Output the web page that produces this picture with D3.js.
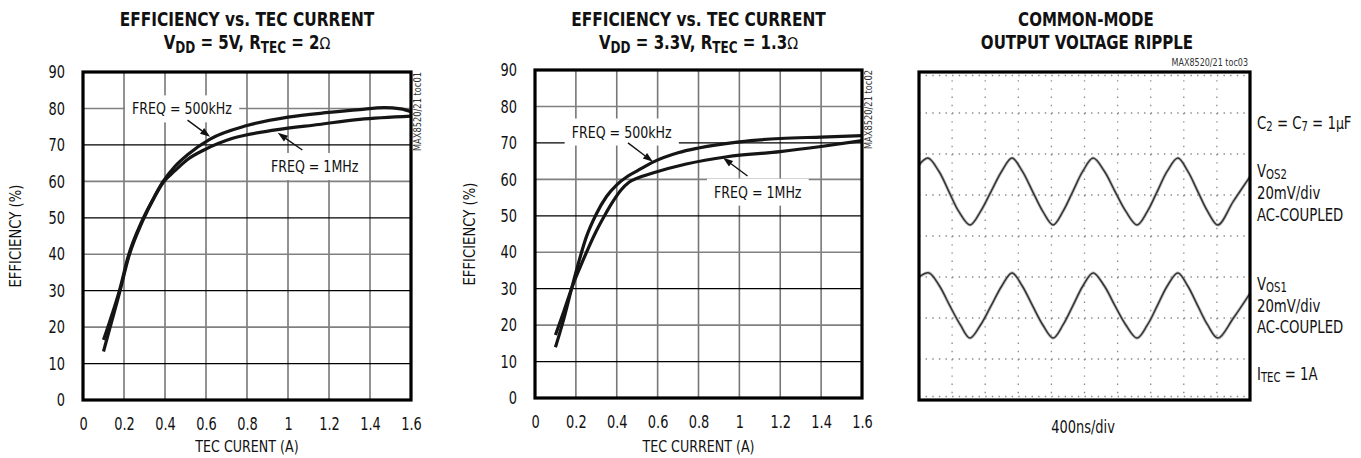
<!DOCTYPE html>
<html><head><meta charset="utf-8">
<script src="https://cdn.jsdelivr.net/npm/d3@7"></script>
<style>body{margin:0;background:#fff}</style>
</head><body><svg id="c" width="1361" height="458"></svg>
<script>
// ---------- DATA ----------
const currentTicks = [0, 0.2, 0.4, 0.6, 0.8, 1, 1.2, 1.4, 1.6];
const effTicks = [0, 10, 20, 30, 40, 50, 60, 70, 80, 90];

// Chart 1: VDD = 5V, RTEC = 2 ohm  ([current A, efficiency %])
const c1_500k = [[0.1,16.5],[0.13,21.5],[0.18,30.5],[0.22,39.3],[0.29,49.4],[0.35,56],[0.39,59.9],[0.45,64.2],[0.51,67.3],[0.62,71.6],[0.8,75.3],[1.0,77.6],[1.2,78.9],[1.35,79.7],[1.47,80.2],[1.55,79.9],[1.6,79.1]];
const c1_1M   = [[0.1,13.3],[0.13,19.5],[0.18,29.8],[0.22,38.7],[0.29,49],[0.35,55.8],[0.39,59.6],[0.45,63],[0.51,66],[0.59,68.6],[0.73,71.8],[0.94,74.1],[1.15,75.6],[1.35,77],[1.6,77.9]];
// Chart 2: VDD = 3.3V, RTEC = 1.3 ohm
const c2_500k = [[0.1,13.9],[0.14,21.5],[0.18,30.2],[0.21,36.5],[0.25,44],[0.3,50.5],[0.35,55.3],[0.4,58.5],[0.45,60.7],[0.5,62.3],[0.58,64.8],[0.7,67.3],[0.8,68.6],[1.0,70.3],[1.2,71.2],[1.4,71.6],[1.6,72]];
const c2_1M   = [[0.1,17.3],[0.14,23.6],[0.18,30.2],[0.22,35.8],[0.26,41],[0.3,45.8],[0.34,50],[0.38,53.8],[0.42,57],[0.46,59.2],[0.5,60.3],[0.58,61.8],[0.74,64.2],[0.94,66.2],[1.2,67.6],[1.4,69],[1.6,70.6]];

// Scope traces: [time div, voltage div] (grid 0..10 x -4..4)
const vos2 = [[0,1.73],[0.27,1.9],[0.6,1.58],[0.9,1.09],[1.2,0.6],[1.54,0.27],[1.86,0.6],[2.18,1.09],[2.5,1.58],[2.81,1.9],[3.12,1.58],[3.43,1.09],[3.74,0.6],[4.05,0.27],[4.35,0.6],[4.65,1.09],[4.95,1.58],[5.26,1.9],[5.6,1.58],[5.92,1.09],[6.25,0.6],[6.59,0.27],[6.9,0.6],[7.2,1.09],[7.5,1.58],[7.82,1.9],[8.12,1.58],[8.42,1.09],[8.72,0.6],[9.03,0.27],[9.5,0.85],[10,1.45]];
const vos1 = [[0,-1.0],[0.3,-0.9],[0.62,-1.22],[0.93,-1.7],[1.25,-2.17],[1.54,-2.49],[1.86,-2.17],[2.18,-1.7],[2.5,-1.22],[2.81,-0.9],[3.12,-1.22],[3.43,-1.7],[3.74,-2.17],[4.05,-2.49],[4.35,-2.17],[4.65,-1.7],[4.95,-1.22],[5.26,-0.9],[5.6,-1.22],[5.92,-1.7],[6.25,-2.17],[6.59,-2.49],[6.9,-2.17],[7.2,-1.7],[7.5,-1.22],[7.82,-0.9],[8.12,-1.22],[8.42,-1.7],[8.72,-2.17],[9.03,-2.49],[9.5,-2.0],[10,-1.4]];
const scopeXDivs = [0,1,2,3,4,5,6,7,8,9,10];
const scopeYDivs = [-4,-3,-2,-1,0,1,2,3,4];

// ---------- DRAW ----------
const FONT = "'Liberation Sans Narrow','DejaVu Sans Condensed','Arial Narrow',sans-serif";
const svg = d3.select("#c");
svg.append("rect").attr("width",1361).attr("height",458).attr("fill","#fff");

// horizontal condensing around the text's anchor x
function squeeze(sel, f) {
  sel.each(function () {
    const el = d3.select(this);
    const X = +el.attr("x") || 0;
    const prev = el.attr("transform") || "";
    el.attr("transform", `${prev} translate(${X},0) scale(${f},1) translate(${-X},0)`.trim());
  });
  return sel;
}

function richText(g, x, y, parts, opts) {
  const t = g.append("text").attr("x", x).attr("y", y)
    .attr("text-anchor", opts.anchor || "middle")
    .attr("font-family", FONT).attr("font-size", opts.size)
    .attr("font-weight", opts.weight || "normal").attr("fill", "#111");
  const sd = opts.subDy == null ? 4 : opts.subDy, sr = opts.subR || 0.8;
  let shift = 0;
  parts.forEach(p => {
    const s = t.append("tspan").text(p.t);
    if (p.sub) { s.attr("font-size", opts.size * sr).attr("dy", sd - shift); shift = sd; }
    else { if (shift) s.attr("dy", -shift); shift = 0; }
    if (p.sym) s.attr("font-family", "'DejaVu Sans',sans-serif").attr("font-weight","normal").attr("font-size", opts.size*0.85);
  });
  squeeze(t, opts.f || 0.85);
  return t;
}

function effChart(cfg) {
  const g = svg.append("g");
  const x = d3.scaleLinear().domain([0, 1.6]).range(cfg.xr);
  const y = d3.scaleLinear().domain([0, 90]).range(cfg.yr);
  // grid
  g.selectAll(".vg").data(currentTicks.slice(1, -1)).join("line")
    .attr("x1", d => x(d)).attr("x2", d => x(d)).attr("y1", y(0)).attr("y2", y(90))
    .attr("stroke", "#777").attr("stroke-width", 1.6);
  g.selectAll(".hg").data(effTicks.slice(1, -1)).join("line")
    .attr("x1", x(0)).attr("x2", x(1.6)).attr("y1", d => y(d)).attr("y2", d => y(d))
    .attr("stroke", d => (d % 20 === 0) ? "#808080" : "#000").attr("stroke-width", d => (d % 20 === 0) ? 1.6 : 1.2);
  // axes
  const ay = g.append("g").attr("transform", `translate(${x(0)},0)`)
    .call(d3.axisLeft(y).tickValues(effTicks).tickSize(0).tickPadding(18));
  const ax = g.append("g").attr("transform", `translate(0,${y(0)})`)
    .call(d3.axisBottom(x).tickValues(currentTicks).tickSize(0).tickPadding(17).tickFormat(d3.format("~g")));
  [ay, ax].forEach(a => {
    a.select(".domain").remove();
    squeeze(a.selectAll("text").attr("font-family", FONT).attr("font-size", 18).attr("fill", "#111"), 0.8);
  });
  // annotations (white boxes, text, arrows)
  cfg.labels.forEach(l => {
    const f = 0.85, X = x(l.x);
    const t = g.append("text").attr("x", X).attr("y", y(l.y)).attr("dy", "0.36em")
      .attr("text-anchor", "middle").attr("font-family", FONT).attr("font-size", 16.5).attr("fill", "#111").text(l.text);
    const bb = t.node().getBBox();
    squeeze(t, f);
    const bx0 = X + (bb.x - X) * f, bw = bb.width * f;
    g.insert("rect", () => t.node()).attr("x", bx0 - 7).attr("y", bb.y - 4).attr("width", bw + 14).attr("height", bb.height + 8).attr("fill", "#fff");
    const x1 = x(l.ax1), y1 = y(l.ay1), x2 = x(l.ax2), y2 = y(l.ay2);
    const ang = Math.atan2(y2 - y1, x2 - x1), L = 10, W = 3.5;
    const bx = x2 - L * Math.cos(ang), by = y2 - L * Math.sin(ang);
    g.append("line").attr("x1", x1).attr("y1", y1).attr("x2", bx).attr("y2", by).attr("stroke", "#111").attr("stroke-width", 1.4);
    g.append("path").attr("d", `M${x2},${y2}L${bx + W * Math.sin(ang)},${by - W * Math.cos(ang)}L${bx - W * Math.sin(ang)},${by + W * Math.cos(ang)}Z`).attr("fill", "#111");
  });
  // curves
  const line = d3.line().x(d => x(d[0])).y(d => y(d[1])).curve(d3.curveMonotoneX);
  [cfg.s1, cfg.s2].forEach(s => g.append("path").attr("d", line(s)).attr("fill", "none").attr("stroke", "#151515").attr("stroke-width", 3.2).attr("stroke-linecap", "butt"));
  // border
  g.append("rect").attr("x", x(0)).attr("y", y(90)).attr("width", x(1.6) - x(0)).attr("height", y(0) - y(90))
    .attr("fill", "none").attr("stroke", "#000").attr("stroke-width", 3.2);
  // titles
  const cx = (cfg.xr[0] + cfg.xr[1]) / 2;
  richText(g, cx, 26, [{t: "EFFICIENCY vs. TEC CURRENT"}], {size: 19, weight: "bold", f: 0.9});
  richText(g, cx, 49, cfg.sub, {size: 19, weight: "bold", f: 0.88});
  squeeze(g.append("text").attr("x", cx).attr("y", 452).attr("text-anchor", "middle").attr("font-family", FONT).attr("font-size", 16).attr("fill", "#111").text(cfg.xlabel), 0.88);
  squeeze(g.append("text").attr("transform", `translate(${cfg.ylabX},${(cfg.yr[0] + cfg.yr[1]) / 2}) rotate(-90)`).attr("text-anchor", "middle")
    .attr("font-family", FONT).attr("font-size", 16).attr("fill", "#111").text("EFFICIENCY (%)"), 0.92);
  squeeze(g.append("text").attr("transform", `translate(${x(1.6) + 10},${y(90)}) rotate(-90)`).attr("text-anchor", "end")
    .attr("font-family", FONT).attr("font-size", 10.5).attr("fill", "#333").text(cfg.wm), 0.88);
}

effChart({xr: [83, 411], yr: [400, 72], s1: c1_500k, s2: c1_1M, ylabX: 21,
  xlabel: "TEC CURENT (A)", wm: "MAX8520/21 toc01",
  sub: [{t: "V"}, {t: "DD", sub: true}, {t: " = 5V, R"}, {t: "TEC", sub: true}, {t: " = 2"}, {t: "Ω", sym: true}],
  labels: [
    {text: "FREQ = 500kHz", x: 0.483, y: 80, ax1: 0.51, ay1: 76.8, ax2: 0.62, ay2: 72.2},
    {text: "FREQ = 1MHz", x: 1.13, y: 64.2, ax1: 1.07, ay1: 68.6, ax2: 0.95, ay2: 73.3}
  ]});
effChart({xr: [535, 862], yr: [398, 70], s1: c2_500k, s2: c2_1M, ylabX: 475,
  xlabel: "TEC CURRENT (A)", wm: "MAX8520/21 toc02",
  sub: [{t: "V"}, {t: "DD", sub: true}, {t: " = 3.3V, R"}, {t: "TEC", sub: true}, {t: " = 1.3"}, {t: "Ω", sym: true}],
  labels: [
    {text: "FREQ = 500kHz", x: 0.424, y: 73.1, ax1: 0.455, ay1: 70, ax2: 0.577, ay2: 64.8},
    {text: "FREQ = 1MHz", x: 1.09, y: 56.6, ax1: 1.04, ay1: 60.9, ax2: 0.92, ay2: 65.9}
  ]});

// ---------- SCOPE ----------
(function () {
  const g = svg.append("g");
  const x = d3.scaleLinear().domain([0, 10]).range([919, 1250]);
  const y = d3.scaleLinear().domain([-4, 4]).range([400, 72]);
  g.selectAll(".sv").data(scopeXDivs).join("line")
    .attr("x1", d => x(d)).attr("x2", d => x(d)).attr("y1", y(4)).attr("y2", y(-4))
    .attr("stroke", "#888").attr("stroke-width", 1.3).attr("stroke-dasharray", "1.4,6.8");
  g.selectAll(".sh").data(scopeYDivs).join("line")
    .attr("x1", x(0)).attr("x2", x(10)).attr("y1", d => y(d)).attr("y2", d => y(d))
    .attr("stroke", "#888").attr("stroke-width", 1.3).attr("stroke-dasharray", "1.4,5.22");
  [y(4) + 3.5, y(-4) - 3.5].forEach(yy => g.append("line").attr("x1", x(0)).attr("x2", x(10)).attr("y1", yy).attr("y2", yy)
    .attr("stroke", "#888").attr("stroke-width", 1.3).attr("stroke-dasharray", "1.4,5.22"));
  const line = d3.line().x(d => x(d[0])).y(d => y(d[1])).curve(d3.curveCatmullRom.alpha(0.5));
  [vos2, vos1].forEach(s => {
    g.append("path").attr("d", line(s)).attr("fill", "none").attr("stroke", "#9a9a9a").attr("stroke-width", 3.2).attr("opacity", 0.6);
    g.append("path").attr("d", line(s)).attr("fill", "none").attr("stroke", "#333").attr("stroke-width", 1.5);
  });
  g.append("rect").attr("x", x(0)).attr("y", y(4)).attr("width", x(10) - x(0)).attr("height", y(-4) - y(4))
    .attr("fill", "none").attr("stroke", "#000").attr("stroke-width", 3.2);
  richText(g, 1086, 26, [{t: "COMMON-MODE"}], {size: 19, weight: "bold", f: 0.88});
  richText(g, 1087, 49, [{t: "OUTPUT VOLTAGE RIPPLE"}], {size: 19, weight: "bold", f: 0.88});
  squeeze(g.append("text").attr("x", 1248).attr("y", 66).attr("text-anchor", "end").attr("font-family", FONT).attr("font-size", 10.5).attr("fill", "#333").text("MAX8520/21 toc03"), 0.85);
  const R = 1257, o = {size: 18, anchor: "start", f: 0.82, subDy: 2, subR: 0.76};
  richText(g, R, 129, [{t: "C"}, {t: "2", sub: true}, {t: " = C"}, {t: "7", sub: true}, {t: " = 1"}, {t: "µ", sym: true}, {t: "F"}], o);
  richText(g, R, 177, [{t: "V"}, {t: "OS2", sub: true}], o);
  richText(g, R, 199, [{t: "20mV/div"}], o);
  richText(g, R, 221, [{t: "AC-COUPLED"}], o);
  richText(g, R, 290, [{t: "V"}, {t: "OS1", sub: true}], o);
  richText(g, R, 312, [{t: "20mV/div"}], o);
  richText(g, R, 333, [{t: "AC-COUPLED"}], o);
  richText(g, R, 380, [{t: "I"}, {t: "TEC", sub: true}, {t: " = 1A"}], o);
  richText(g, 1083, 433, [{t: "400ns/div"}], {size: 17, f: 0.85});
})();
</script></body></html>
